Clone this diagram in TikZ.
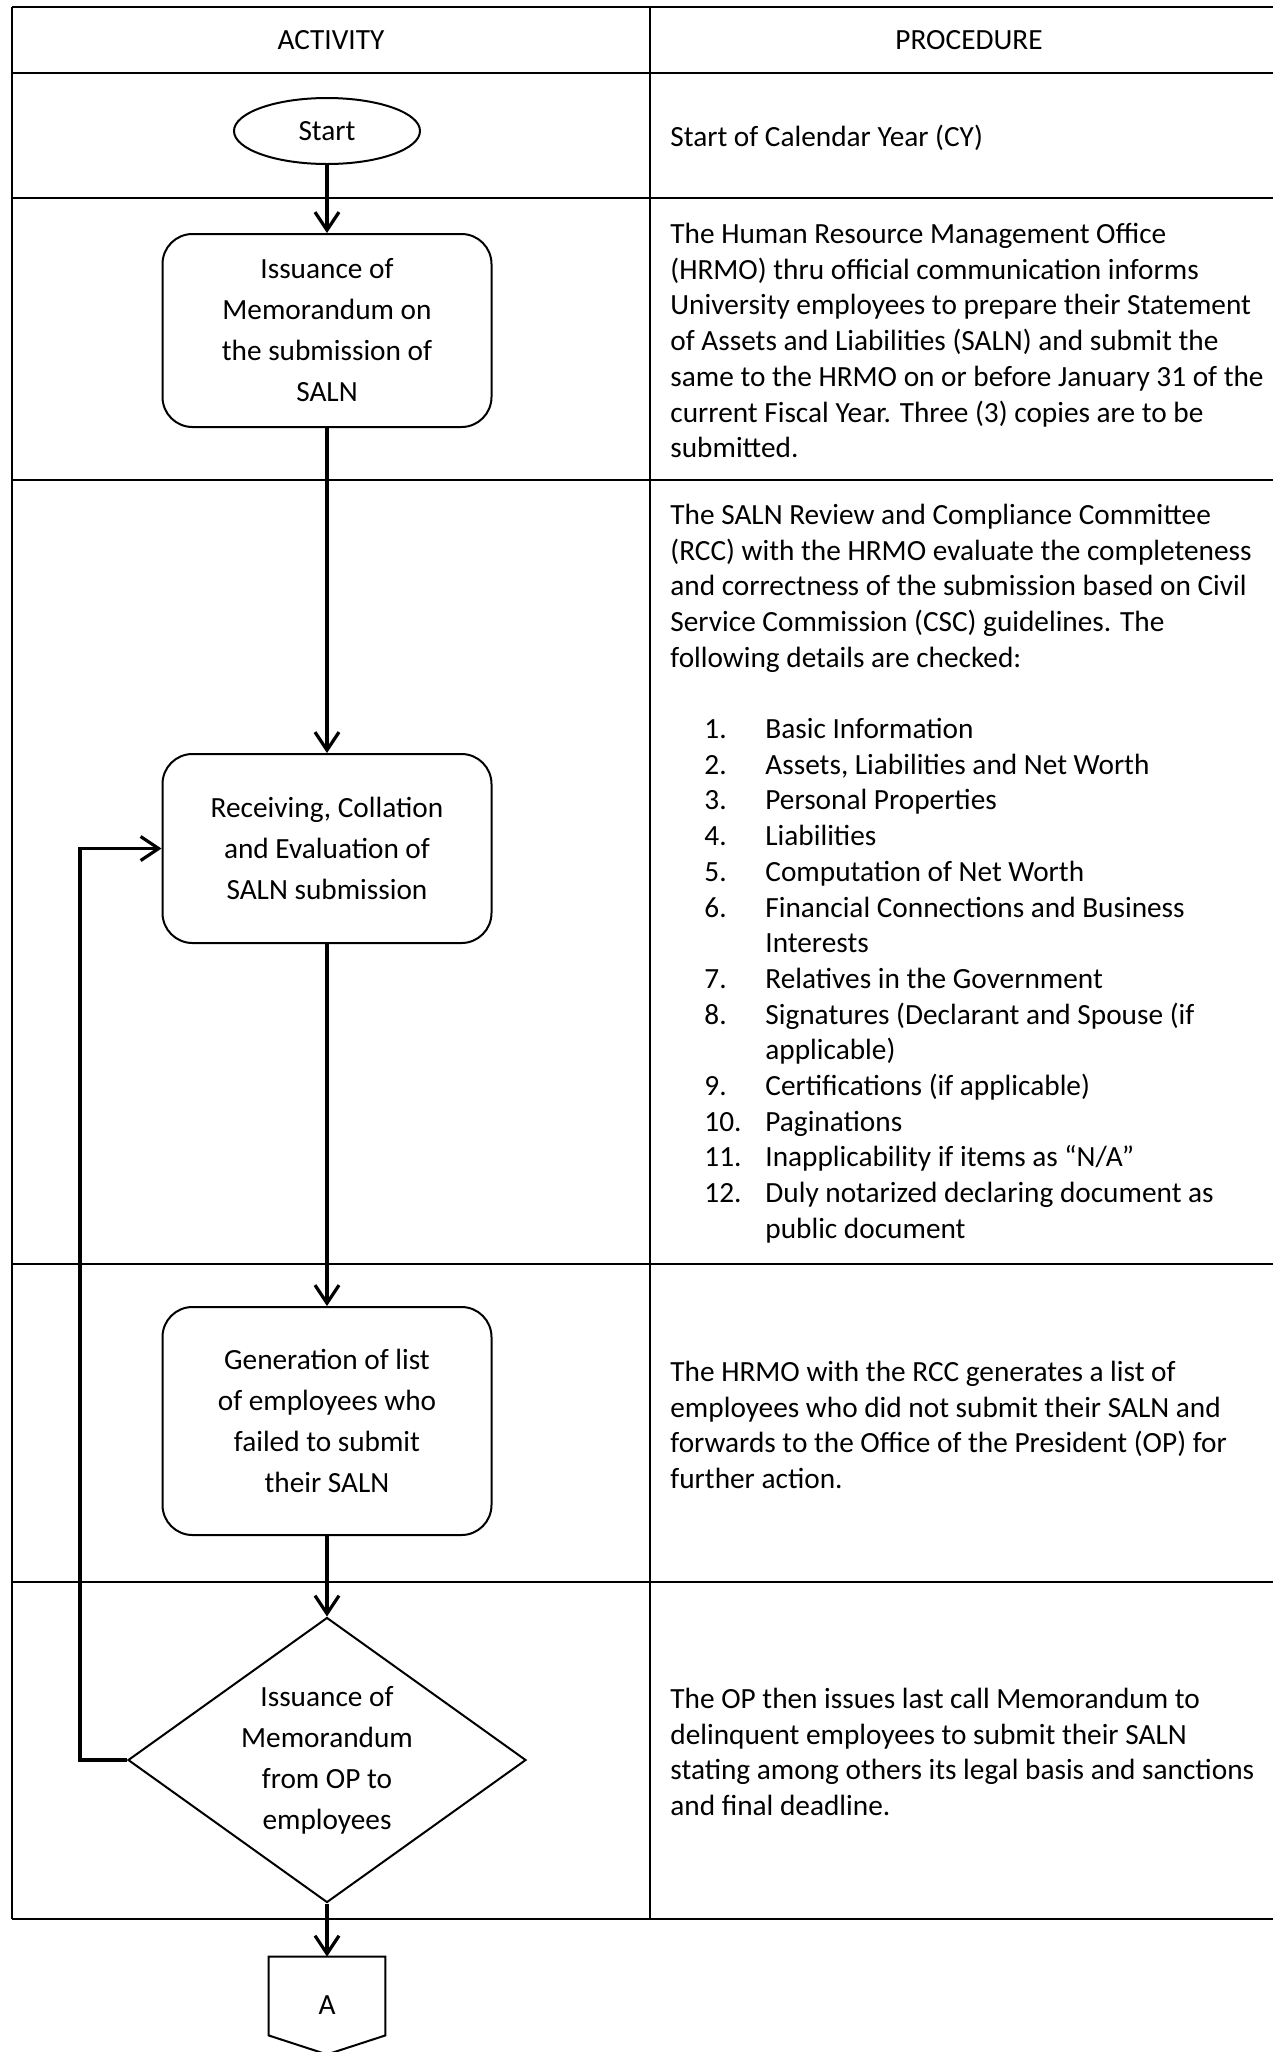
\documentclass[tikz,border=0pt]{standalone}
\usepackage{fontspec}
\setmainfont{Carlito}
\usetikzlibrary{shapes.geometric,arrows.meta}
\begin{document}
\begin{tikzpicture}[x=0.5pt,y=-0.5pt,
  grid/.style={line width=1pt},
  flow/.style={line width=1.6pt,-{Straight Barb[length=9pt,width=12pt]}},
  boxfont/.style={font=\fontsize{14.65pt}{20.5pt}\selectfont},
  procfont/.style={font=\fontsize{14.65pt}{17.85pt}\selectfont},
  stepbox/.style={draw,line width=1pt,rounded corners=15pt,minimum width=164.5pt,align=center,inner sep=0pt,boxfont},
  proc/.style={procfont,align=left,anchor=base west,inner sep=0pt,yshift=-1.25pt},
]
\useasboundingbox (0,0) rectangle (1273,2052);
% table grid
\foreach \yy in {6.5,73,198,480,1264,1582,1919}
  \draw[grid] (12,\yy) -- (1273,\yy);
\draw[grid] (12,6.5) -- (12,1919);
\draw[grid] (650,6.5) -- (650,1919);
% headers
\node[boxfont] (hA) at (331,39.75) {ACTIVITY};
\node[boxfont] (hP) at (969,39.75) {PROCEDURE};
% flow nodes
\node[draw,ellipse,line width=1pt,minimum width=93pt,minimum height=33pt,inner sep=0pt,boxfont] (start) at (327,131) {Start};
\node[stepbox,minimum height=96.5pt] (issue) at (327,330.5) {Issuance of\\Memorandum on\\the submission of\\SALN};
\node[stepbox,minimum height=94.5pt] (recv) at (327,848.5) {Receiving, Collation\\and Evaluation of\\SALN submission};
\node[stepbox,minimum height=114pt] (gen) at (327,1421) {Generation of list\\of employees who\\failed to submit\\their SALN};
\node[draw,diamond,aspect=1.4,inner sep=0pt,line width=1pt,minimum width=199pt,minimum height=142.5pt,boxfont,align=center] (memo) at (327,1760) {Issuance of\\Memorandum\\from OP to\\employees};
\node[inner sep=0pt,minimum width=58pt,minimum height=48.5pt,boxfont] (conA) at (327,2005.5) {A};
\draw[line width=1pt] (conA.north west) -- (conA.north east) -- ([yshift=9.5pt]conA.south east) -- (conA.south) -- ([yshift=9.5pt]conA.south west) -- cycle;
% connectors
\draw[flow] (start.south) -- (issue.north);
\draw[flow] (issue.south) -- (recv.north);
\draw[flow] (recv.south) -- (gen.north);
\draw[flow] (gen.south) -- (memo.north);
\draw[flow] (memo.south) -- (conA.north);
\draw[flow] (memo.west) -- ++(-47,0) |- (recv.west);
% procedure texts (anchored at the baseline of the last line)
\node[proc] (p1) at (670,144) {Start of Calendar Year (CY)};
\node[proc] (p2) at (670,455.2) {The Human Resource Management Office\\(HRMO) thru official communication informs\\University employees to prepare their Statement\\of Assets and Liabilities (SALN) and submit the\\same to the HRMO on or before January 31 of the\\current Fiscal Year. Three (3) copies are to be\\submitted.};
\node[proc] (p3) at (670,664.8) {The SALN Review and Compliance Committee\\(RCC) with the HRMO evaluate the completeness\\and correctness of the submission based on Civil\\Service Commission (CSC) guidelines. The\\following details are checked:};
\node[proc] (n3) at (704,1235.8) {1.\\2.\\3.\\4.\\5.\\6.\\\mbox{}\\7.\\8.\\\mbox{}\\9.\\10.\\11.\\12.\\\mbox{}};
\node[proc] (l3) at (765,1235.8) {Basic Information\\Assets, Liabilities and Net Worth\\Personal Properties\\Liabilities\\Computation of Net Worth\\Financial Connections and Business\\Interests\\Relatives in the Government\\Signatures (Declarant and Spouse (if\\applicable)\\Certifications (if applicable)\\Paginations\\Inapplicability if items as “N/A”\\Duly notarized declaring document as\\public document};
\node[proc] (p4) at (670,1486.1) {The HRMO with the RCC generates a list of\\employees who did not submit their SALN and\\forwards to the Office of the President (OP) for\\further action.};
\node[proc] (p5) at (670,1813.1) {The OP then issues last call Memorandum to\\delinquent employees to submit their SALN\\stating among others its legal basis and sanctions\\and final deadline.};
\end{tikzpicture}
\end{document}
